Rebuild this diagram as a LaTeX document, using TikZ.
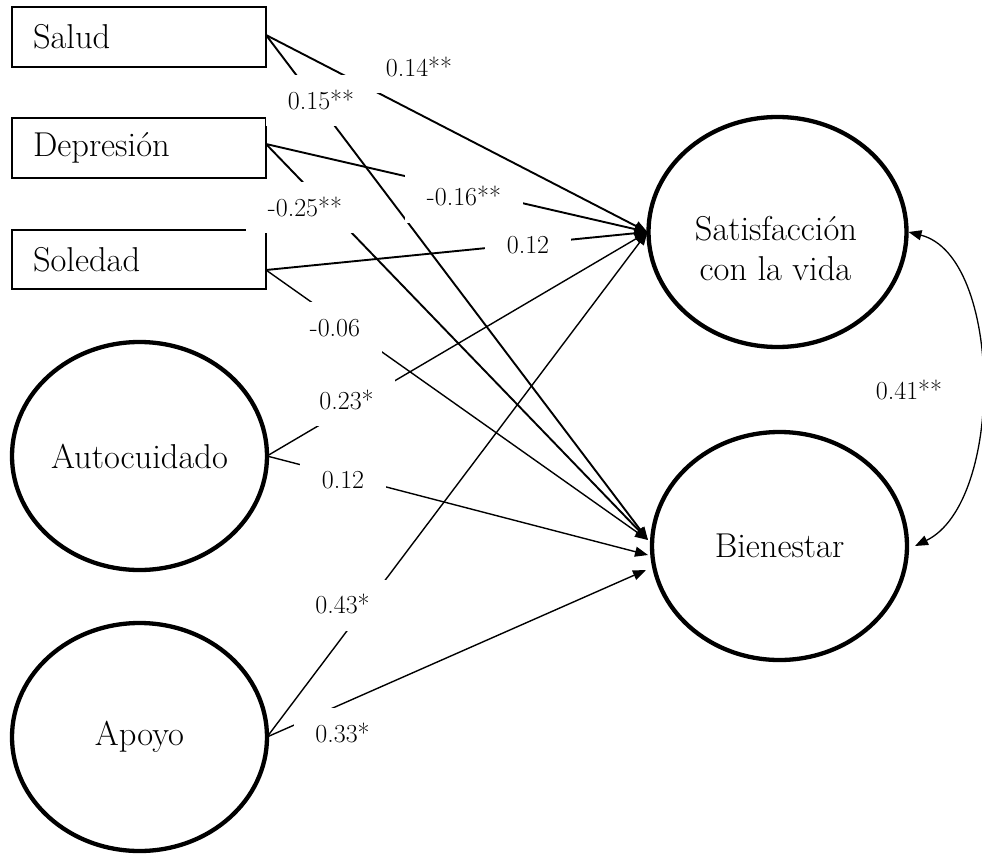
\documentclass[tikz,border=0pt]{standalone}
\usetikzlibrary{arrows.meta,shapes.geometric}
\newcommand\bigtxt{\fontsize{34.5}{40}\selectfont}
\newcommand\coeftxt{\fontsize{26}{30}\selectfont}
\begin{document}
\begin{tikzpicture}[x=1pt,y=-1pt,
  every node/.style={inner sep=0pt,outer sep=0pt},
  obs/.style={draw,line width=2pt,minimum height=60pt,text width=212pt,
    inner xsep=21pt,align=left,anchor=west,font=\bigtxt},
  lat/.style={draw,ellipse,line width=4.3pt,minimum width=255pt,
    minimum height=228pt,font=\bigtxt},
  coef/.style={fill=white,font=\coeftxt,inner xsep=21.5pt,
    text height=17pt,text depth=0pt,minimum height=51pt},
  tip/.style={-{Triangle[length=13pt,width=10pt]}},
  heavy/.style={tip,line width=1.9pt},
  light/.style={tip,line width=1.4pt}
]
\useasboundingbox (0,0) rectangle (982,856);

% observed predictors
\node[obs] (salud) at (12,37) {Salud};
\node[obs] (dep) at (12,148) {Depresión};
\node[obs,minimum height=59pt] (sol) at (12,259.5) {Soledad};

% latent predictors
\node[lat] (auto) at (139.5,456) {Autocuidado};
\node[lat] (apoyo) at (139.5,737) {Apoyo};

% outcomes
\node[lat,minimum width=258pt,minimum height=230pt] (sat) at (777.5,232) {};
\node[font=\bigtxt,anchor=base] (sat1) at (776,240) {Satisfacción};
\node[font=\bigtxt,anchor=base] (sat2) at (775.5,280) {con la vida};
\node[lat] (bien) at (779.5,546) {Bienestar};

% end points on the outcome borders
\coordinate (sin) at ([xshift=-1pt]sat.west);
\coordinate (b1) at ([xshift=-4pt,yshift=6pt]bien.west);
\coordinate (b2) at ([xshift=-4pt,yshift=-9pt]bien.west);
\coordinate (b3) at ([xshift=-6pt,yshift=-24pt]bien.west);
\coordinate (so) at ([yshift=2pt]salud.east);
\coordinate (do) at ([yshift=4pt]dep.east);
\coordinate (lo) at ([yshift=-10.5pt]sol.east);

% paths
\draw[heavy] (so) -- (sin);
\draw[heavy] (so) -- (b1);
\draw[heavy] (do) -- (sin);
\draw[heavy] (do) -- (b1);
\draw[heavy] (lo) -- (sin);
\draw[light] (lo) -- (b1);
\draw[light] (auto.east) -- (sin);
\draw[light] (auto.east) -- (b2);
\draw[light] (apoyo.east) -- (sin);
\draw[light] (apoyo.east) -- (b3);

% correlation between outcomes
\draw[line width=1.3pt,{Triangle[length=13pt,width=10pt]}-{Triangle[length=13pt,width=10pt]}]
  ([xshift=2pt]sat.east) .. controls (1003,256) and (1005,502) .. ([xshift=8pt]bien.east);

% coefficients
\node[coef] (c14) at (419,68) {0.14**};
\node[coef] (c15) at (321,101) {0.15**};
\node[coef] (c16) at (464,197) {-0.16**};
\node[coef] (c25) at (305,207.5) {-0.25**};
\node[coef] (c12a) at (528,244.5) {0.12};
\node[coef] (c06) at (335,327.5) {-0.06};
\node[coef] (c23) at (346.5,400.5) {0.23*};
\node[coef] (c12b) at (343,480) {0.12};
\node[coef] (c43) at (342.5,605) {0.43*};
\node[coef] (c33) at (342.5,733.5) {0.33*};
\node[coef] (c41) at (909,391) {0.41**};
\end{tikzpicture}
\end{document}
